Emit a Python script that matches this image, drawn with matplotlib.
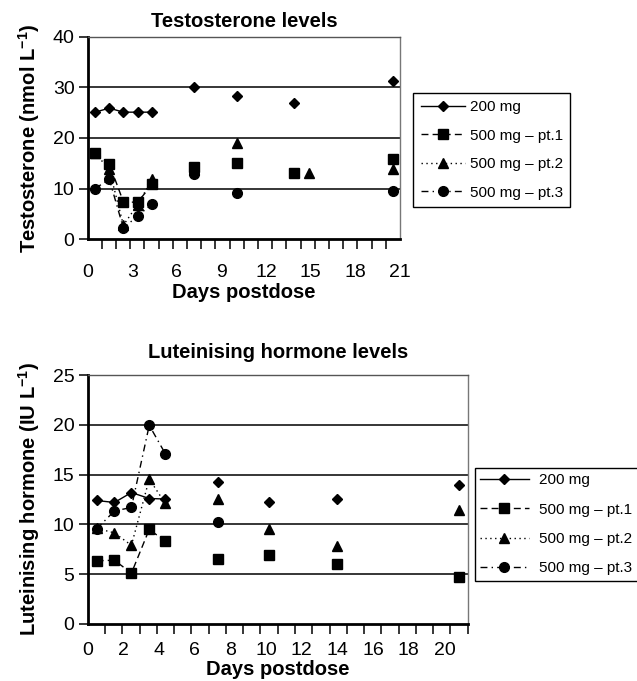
import numpy as np
import matplotlib
matplotlib.use("Agg")
import matplotlib.pyplot as plt

plt.rcParams['font.family'] = ['Liberation Sans', 'DejaVu Sans']
plt.rcParams['mathtext.fontset'] = 'custom'
plt.rcParams['mathtext.rm'] = 'Liberation Sans'
plt.rcParams['mathtext.bf'] = 'Liberation Sans:bold'

# ---------------- Testosterone data ----------------
t_days_200 = [0.5, 1.45, 2.4, 3.35, 4.35, 7.15, 10.05, 13.9, 20.55]
t_200 = [25.1, 25.9, 25.1, 25.1, 25.1, 30.0, 28.2, 27.0, 31.2]
t_days_pt1 = [0.5, 1.45, 2.4, 3.35, 4.35, 7.15, 10.05, 13.9, 20.55]
t_pt1 = [17.0, 14.9, 7.4, 7.3, 10.9, 14.2, 15.0, 13.1, 15.9]
t_days_pt2 = [0.5, 1.45, 2.4, 3.35, 4.35, 7.15, 10.05, 14.85, 20.55]
t_pt2 = [17.0, 13.8, 2.8, 6.8, 11.9, 13.6, 19.0, 13.0, 13.9]
t_days_pt3 = [0.5, 1.45, 2.4, 3.35, 4.35, 7.15, 10.05, 20.55]
t_pt3 = [10.0, 11.9, 2.2, 4.6, 7.0, 12.9, 9.1, 9.5]
t_xticks = [0, 3, 6, 9, 12, 15, 18, 21]
t_yticks = [0, 10, 20, 30, 40]

# ---------------- LH data ----------------
l_days = [0.5, 1.5, 2.45, 3.45, 4.35, 7.3, 10.15, 14.0, 20.8]
l_200 = [12.4, 12.2, 13.2, 12.6, 12.55, 14.3, 12.2, 12.6, 13.95]
l_pt1 = [6.35, 6.4, 5.1, 9.5, 8.3, 6.5, 6.9, 6.0, 4.75]
l_pt2 = [9.6, 9.15, 7.9, 14.55, 12.1, 12.6, 9.5, 7.85, 11.45]
l_days_pt3 = [0.5, 1.5, 2.45, 3.45, 4.35, 7.3]
l_pt3 = [9.55, 11.35, 11.7, 19.95, 17.1, 10.25]
l_xticks = [0, 2, 4, 6, 8, 10, 12, 14, 16, 18, 20]
l_yticks = [0, 5, 10, 15, 20, 25]

labels = ['200 mg', '500 mg \u2013 pt.1', '500 mg \u2013 pt.2', '500 mg \u2013 pt.3']
markers = ['D', 's', '^', 'o']
msizes = [5, 6.5, 7, 7]
lstyles = ['-', (0, (5, 3)), (0, (1, 2.5)), (0, (5, 3, 1, 3))]
N_LINKED = 5  # first five samples joined by lines

W, H = 637, 681
fig = plt.figure(figsize=(W / 100, H / 100), dpi=100)

TICK_FS = 14
LABEL_FS = 14.5


def style_axes(ax, xmax, ymax, xticks, yticks, nminor, xpad):
    ax.set_xlim(0, xmax)
    ax.set_ylim(0, ymax)
    for y in yticks[1:]:
        ax.axhline(y, color='black', lw=1.1, zorder=1)
    ax.set_yticks(yticks)
    ax.set_xticks(xticks)
    ax.set_xticks(np.linspace(0, xmax, nminor), minor=True)
    ax.tick_params(axis='x', which='major', length=0, pad=xpad, labelsize=TICK_FS)
    ax.tick_params(axis='x', which='minor', length=7, width=1.1, direction='out')
    ax.tick_params(axis='y', which='major', length=6.5, width=1.1, direction='out',
                   labelsize=TICK_FS, pad=3)
    ax.spines['left'].set_linewidth(2)
    ax.spines['bottom'].set_linewidth(2)
    ax.spines['right'].set_color('#777777')
    ax.spines['right'].set_linewidth(1)
    ax.spines['top'].set_color('#555555')
    ax.spines['top'].set_linewidth(1)


def draw_series(ax, xs, ys, i):
    x = np.array(xs, float)
    y = np.array(ys, float)
    ax.plot(x[:N_LINKED], y[:N_LINKED], linestyle=lstyles[i], color='black', lw=1,
            marker=markers[i], ms=msizes[i], mfc='black', mec='black', zorder=3,
            label=labels[i])
    ax.plot(x[N_LINKED:], y[N_LINKED:], linestyle='none', color='black',
            marker=markers[i], ms=msizes[i], mfc='black', mec='black', zorder=3)


# -------- Top panel --------
ax1 = fig.add_axes([87.7 / W, 1 - 239.3 / H, (400 - 87.7) / W, (239.3 - 36.7) / H])
style_axes(ax1, 21, 40, t_xticks, t_yticks, 23, 18)
draw_series(ax1, t_days_200, t_200, 0)
draw_series(ax1, t_days_pt1, t_pt1, 1)
draw_series(ax1, t_days_pt2, t_pt2, 2)
draw_series(ax1, t_days_pt3, t_pt3, 3)
ax1.set_title('Testosterone levels', fontsize=LABEL_FS, fontweight='bold', pad=7)
ax1.set_xlabel('Days postdose', fontsize=LABEL_FS, fontweight='bold', labelpad=1)
ax1.set_ylabel(r'Testosterone (nmol L$^{\mathbf{-1}}$)', fontsize=LABEL_FS,
               fontweight='bold', labelpad=8)
leg1 = ax1.legend(loc='upper left', bbox_to_anchor=(413 / W, 1 - 92.5 / H),
                  bbox_transform=fig.transFigure, borderaxespad=0, fontsize=11,
                  fancybox=False, edgecolor='black', framealpha=1,
                  handlelength=2.9, labelspacing=0.95, borderpad=0.5,
                  handletextpad=0.3)
leg1.get_frame().set_linewidth(1)

# -------- Bottom panel --------
ax2 = fig.add_axes([87.7 / W, 1 - 624 / H, (467.7 - 87.7) / W, (624 - 375) / H])
style_axes(ax2, 21.3, 25, l_xticks, l_yticks, 23, 13)
draw_series(ax2, l_days, l_200, 0)
draw_series(ax2, l_days, l_pt1, 1)
draw_series(ax2, l_days, l_pt2, 2)
draw_series(ax2, l_days_pt3, l_pt3, 3)
ax2.set_title('Luteinising hormone levels', fontsize=LABEL_FS, fontweight='bold', pad=12)
ax2.set_xlabel('Days postdose', fontsize=LABEL_FS, fontweight='bold', labelpad=1)
ax2.set_ylabel(r'Luteinising hormone (IU L$^{\mathbf{-1}}$)', fontsize=LABEL_FS,
               fontweight='bold', labelpad=8)
leg2 = ax2.legend(loc='upper left', bbox_to_anchor=(474.5 / W, 1 - 468 / H),
                  bbox_transform=fig.transFigure, borderaxespad=0, fontsize=11,
                  fancybox=False, edgecolor='black', framealpha=1,
                  handlelength=3.2, labelspacing=1.0, borderpad=0.35,
                  handletextpad=0.7)
leg2.get_frame().set_linewidth(1)

fig.savefig('out.png', dpi=100)
